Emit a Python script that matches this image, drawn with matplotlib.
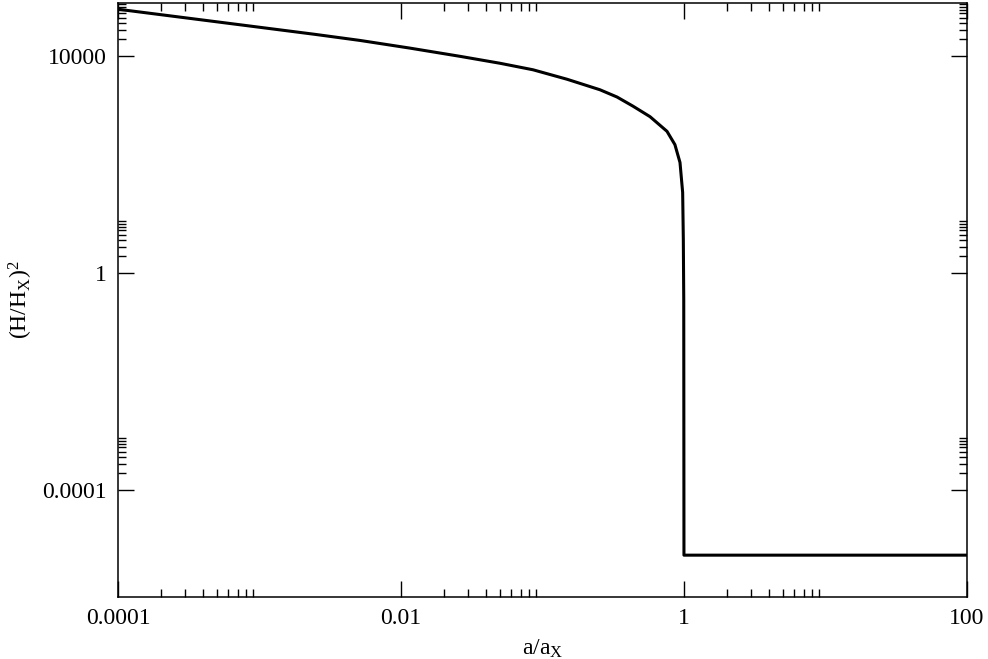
import numpy as np
import matplotlib
matplotlib.use("Agg")
import matplotlib.pyplot as plt
from matplotlib.ticker import FixedLocator, NullFormatter

plt.rcParams['font.family'] = ['Liberation Serif', 'DejaVu Serif']
plt.rcParams['mathtext.fontset'] = 'custom'
plt.rcParams['mathtext.rm'] = 'Liberation Serif'
plt.rcParams['mathtext.it'] = 'Liberation Serif'

# curve (log10 a/a_X, log10 (H/H_X)^2)
log_a = [-4.0, -3.491, -3.004, -2.608, -2.290, -1.936, -1.583, -1.300,
         -1.067, -0.827, -0.594, -0.473, -0.360, -0.240, -0.120, -0.064,
         -0.028, -0.0092, -0.0045, -0.0015, 0.0, 2.0]
log_h2 = [4.853, 4.684, 4.522, 4.390, 4.278, 4.136, 3.985, 3.857,
          3.737, 3.563, 3.369, 3.235, 3.066, 2.873, 2.603, 2.358,
          2.028, 1.476, 0.612, -0.491, -5.208, -5.208]

a = 10.0 ** np.array(log_a)
h2 = 10.0 ** np.array(log_h2)

x_major = [1e-4, 1e-2, 1, 100]
x_labels = ["0.0001", "0.01", "1", "100"]
y_major = [1e-4, 1, 1e4]
y_labels = ["0.0001", "1", "10000"]

fig = plt.figure(figsize=[9.88, 6.59], dpi=100)
ax = fig.add_axes([0.1194, 0.0941, 0.8593, 0.9018])

ax.plot(a, h2, color="black", lw=2.2, solid_joinstyle="round")

ax.set_xscale("log")
ax.set_yscale("log")
ax.set_xlim(1e-4, 100)
ax.set_ylim(1.05e-6, 9.4e4)

# minor ticks only in the decade right after each major tick
x_minor = [k * m for m in [1e-4, 1e-2, 1] for k in range(2, 10)]
y_minor = [k * m for m in [1e-4, 1, 1e4] for k in range(2, 10)]

ax.xaxis.set_major_locator(FixedLocator(x_major))
ax.xaxis.set_minor_locator(FixedLocator(x_minor))
ax.yaxis.set_major_locator(FixedLocator(y_major))
ax.yaxis.set_minor_locator(FixedLocator(y_minor))
ax.set_xticklabels(x_labels)
ax.set_yticklabels(y_labels)
ax.xaxis.set_minor_formatter(NullFormatter())
ax.yaxis.set_minor_formatter(NullFormatter())

ax.tick_params(which="both", direction="in", top=True, right=True, width=1.0, labelsize=17)
ax.tick_params(which="major", length=11.5, pad=8)
ax.tick_params(which="minor", length=5.8)
for s in ax.spines.values():
    s.set_linewidth(1.1)

ax.set_xlabel(r"a/a$_\mathrm{X}$", fontsize=17, labelpad=6)
ax.set_ylabel(r"(H/H$_\mathrm{X}$)$^2$", fontsize=17, labelpad=5)

plt.savefig("out.png", dpi=100)
